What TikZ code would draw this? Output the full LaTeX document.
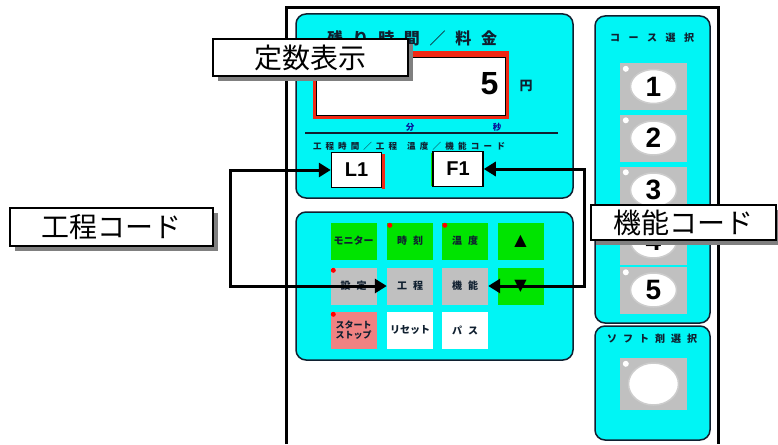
\documentclass[tikz,border=0pt]{standalone}
\usepackage{fontspec}
\setmainfont{Liberation Sans}
\newfontfamily\jp{Noto Sans CJK JP}
\newfontfamily\dv{DejaVu Sans}
\usetikzlibrary{arrows.meta,shadows}
\definecolor{pcyan}{RGB}{0,245,245}
\definecolor{pgreen}{RGB}{0,228,0}
\definecolor{pgray}{RGB}{192,192,192}
\definecolor{ppink}{RGB}{240,130,130}
\definecolor{pnavy}{RGB}{16,32,48}
\definecolor{pred}{RGB}{240,40,20}
\definecolor{pshadow}{RGB}{128,128,128}
\begin{document}
\begin{tikzpicture}[x=1pt,y=-1pt,
  panel/.style={draw=pnavy,line width=1.5pt,fill=pcyan,rounded corners=10pt},
  btn/.style={minimum width=46pt,minimum height=37pt,inner sep=0pt,align=center,
    font=\jp\bfseries\fontsize{10}{11}\selectfont,text=pnavy},
  gbtn/.style={btn,fill=pgreen},
  sbtn/.style={btn,fill=pgray},
  cbtn/.style={fill=pgray,minimum width=67pt,minimum height=47pt,inner sep=0pt},
  cnum/.style={font=\bfseries\fontsize{28}{28}\selectfont,text=black},
  callout/.style={draw=black,line width=1.5pt,fill=white,inner sep=0pt,
    font=\jp\fontsize{28}{30}\selectfont,
    drop shadow={shadow xshift=5pt,shadow yshift=-5pt,fill=pshadow,opacity=1}},
  code/.style={draw=black,line width=1.5pt,fill=white,minimum width=50pt,minimum height=35pt,
    inner sep=0pt,font=\bfseries\fontsize{20}{20}\selectfont},
  dot/.style={fill=red},
  link/.style={line width=3pt,line join=miter,
    {Triangle[length=12pt,width=14pt]}-{Triangle[length=12pt,width=14pt]}},
  tiny/.style={font=\jp\bfseries\fontsize{8.5}{9}\selectfont,text=pnavy,inner sep=0pt}
]
\useasboundingbox (0,0) rectangle (778,444);
\fill[white] (0,0) rectangle (778,444);

% outer frame
\draw[line width=3pt,line join=miter] (286,444) -- (286,8) -- (718,8) -- (718,444);

% panels
\draw[panel] (296,14) rectangle (573,198);
\draw[panel] (296,212) rectangle (573,360);
\draw[panel] (595,16) rectangle (710,323);
\draw[panel] (595,326) rectangle (710,440);

% upper panel content
\node[font=\jp\bfseries\fontsize{16}{16}\selectfont,text=pnavy,inner sep=0pt] (title) at (412,38)
  {\makebox[170pt][s]{残\hfill り\hfill 時\hfill 間\hfill ／\hfill 料\hfill 金}};
\fill[pred] (313,51) rectangle (509,119);
\node[draw=black,line width=1pt,fill=white,minimum width=189pt,minimum height=58pt,
  inner sep=0pt,anchor=north west] (disp) at (316,57) {};
\node[cnum,font=\bfseries\fontsize{32}{32}\selectfont,anchor=east] (five) at (502,84) {5};
\node[font=\jp\bfseries\fontsize{13}{13}\selectfont,text=pnavy] (yen) at (526,86) {円};
\draw[pnavy,line width=1.2pt] (305,133) -- (558,133);
\node[tiny,text=blue!50!pnavy] (fun) at (410,127) {分};
\node[tiny,text=blue!50!pnavy] (byo) at (497,127) {秒};
\node[tiny] (lab1) at (355,146) {\makebox[84pt][s]{工\hfill 程\hfill 時\hfill 間\hfill ／\hfill 工\hfill 程}};
\node[tiny] (lab2) at (456,146) {\makebox[98pt][s]{温\hfill 度\hfill ／\hfill 機\hfill 能\hfill コ\hfill ー\hfill ド}};
\fill[pred] (382,154) rectangle (385,189);
\node[code] (L1) at (356.5,170) {L1};
\fill[pgreen] (431,153) rectangle (434,186);
\node[code] (F1) at (458,169) {F1};

% lower panel buttons
\node[gbtn] (mon) at (353.5,241) {モニター};
\node[gbtn] (jikoku) at (410,241) {時\hspace{6pt}刻};
\node[gbtn] (ondo) at (465,241) {温\hspace{6pt}度};
\node[gbtn,font=\dv\fontsize{16}{16}\selectfont,text=black] (up) at (520.5,241) {▲};
\node[sbtn] (settei) at (353.5,286) {設\hspace{6pt}定};
\node[sbtn] (kotei) at (410,286) {工\hspace{6pt}程};
\node[sbtn] (kinou) at (465,286) {機\hspace{6pt}能};
\node[gbtn,font=\dv\fontsize{16}{16}\selectfont,text=black] (down) at (520.5,286) {▼};
\node[btn,fill=ppink,font=\jp\bfseries\fontsize{9}{10}\selectfont] (start) at (353.5,330) {スタート\\ストップ};
\node[btn,fill=white] (reset) at (410,330) {リセット};
\node[btn,fill=white] (pass) at (465,330) {パ\hspace{6pt}ス};
\fill[dot] ([shift={(3,3)}]jikoku.north west) circle (2.5);
\fill[dot] ([shift={(3,3)}]ondo.north west) circle (2.5);
\fill[dot] ([shift={(3,3)}]settei.north west) circle (2.5);
\fill[dot] ([shift={(3,3)}]start.north west) circle (2.5);

% course buttons
\node[font=\jp\bfseries\fontsize{10}{10}\selectfont,text=pnavy,inner sep=0pt] (course) at (652,38)
  {\makebox[84pt][s]{コ\hfill ー\hfill ス\hfill 選\hfill 択}};
\foreach \n/\yy in {1/86.5,2/138,3/190,4/241,5/290}{
  \node[cbtn] (cb\n) at (653.5,\yy) {};
  \fill[white,draw=gray!40,line width=1.5pt] (cb\n.center) ellipse (23 and 17);
  \fill[white] ([shift={(6,6)}]cb\n.north west) circle (3);
  \node[cnum] (cn\n) at (cb\n.center) {\n};
}
\node[font=\jp\bfseries\fontsize{10}{10}\selectfont,text=pnavy,inner sep=0pt] (soft) at (652,339)
  {\makebox[90pt][s]{ソ\hfill フ\hfill ト\hfill 剤\hfill 選\hfill 択}};
\node[cbtn,minimum height=52pt] (sb) at (653.5,384) {};
\fill[white,draw=gray!40,line width=1.5pt] (sb.center) ellipse (25 and 21);
\fill[white] ([shift={(6,6)}]sb.north west) circle (3);

% connectors
\coordinate (kx) at (230,0);
\coordinate (fx) at (584,0);
\draw[link] (L1.west) -- (L1.west -| kx) -- (kotei.west -| kx) -- (kotei.west);
\draw[link] (F1.east) -- (F1.east -| fx) -- (kinou.east -| fx) -- (kinou.east);

% callouts
\node[callout,minimum width=195pt,minimum height=37pt] (cTeisu) at (310.5,57.5) {定数表示};
\node[callout,minimum width=203pt,minimum height=38pt] (cKotei) at (111.5,227) {工程コード};
\node[callout,minimum width=185pt,minimum height=35pt] (cKinou) at (683.5,222.5) {機能コード};
\end{tikzpicture}
\end{document}
